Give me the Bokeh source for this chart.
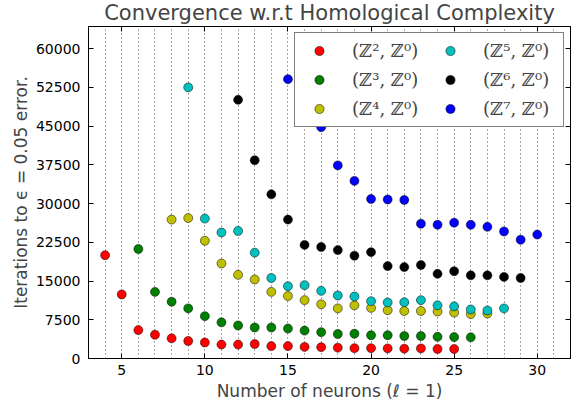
from bokeh.plotting import figure
from bokeh.models import (Range1d, LinearAxis, FixedTicker, SingleIntervalTicker,
                          Legend, LegendItem, ColumnDataSource, CustomLabelingPolicy)
from bokeh.embed import file_html
from bokeh.resources import INLINE

# ---- data ----
x_z2 = list(range(4, 26))
y_z2 = [20000, 12400, 5500, 4600, 3900, 3400, 3100, 2700, 2700, 2800, 2400,
        2400, 2250, 2200, 2100, 2000, 2000, 1950, 1900, 1950, 1850, 1850]
x_z3 = list(range(6, 27))
y_z3 = [21200, 12900, 11000, 9700, 8200, 7000, 6400, 6000, 6000, 5800, 5400,
        5100, 4750, 4800, 4500, 4500, 4350, 4350, 4200, 4150, 4100]
x_z4 = list(range(8, 28))
y_z4 = [26900, 27200, 22800, 18400, 16200, 15300, 12900, 12100, 11300, 10500,
        9700, 10300, 9800, 9350, 9200, 9200, 9100, 8900, 8600, 8700]
x_z5 = list(range(9, 29))
y_z5 = [52500, 27100, 24400, 24700, 20500, 15600, 14000, 14200, 13100, 12200,
        12000, 11100, 10850, 10900, 11300, 10300, 10100, 9500, 9300, 9700]
x_z6 = list(range(12, 30))
y_z6 = [50100, 38400, 31800, 26900, 22000, 21600, 21000, 19900, 20600, 17900,
        17700, 18100, 16400, 16900, 16100, 16100, 15800, 15600]
x_z7 = [15] + list(range(17, 31))
y_z7 = [54100, 44800, 37400, 34400, 30900, 30800, 30700, 26100, 25900, 26300,
        25900, 25500, 24600, 23000, 24000]

labels = ["(ℤ², ℤ⁰)", "(ℤ³, ℤ⁰)", "(ℤ⁴, ℤ⁰)", "(ℤ⁵, ℤ⁰)", "(ℤ⁶, ℤ⁰)", "(ℤ⁷, ℤ⁰)"]
colors = ["#ff0000", "#008000", "#bfbf00", "#00bfbf", "#000000", "#0000ff"]
xs = [x_z2, x_z3, x_z4, x_z5, x_z6, x_z7]
ys = [y_z2, y_z3, y_z4, y_z5, y_z6, y_z7]

x_ticks = [5, 10, 15, 20, 25, 30]
y_ticks = [0, 7500, 15000, 22500, 30000, 37500, 45000, 52500, 60000]

FONT = "DejaVu Sans"

p = figure(width=576, height=403, output_backend="svg", toolbar_location=None,
           x_range=Range1d(3, 32), y_range=Range1d(0, 64300),
           title="Convergence w.r.t Homological Complexity",
           min_border_left=88, min_border_right=0, min_border_top=0,
           min_border_bottom=40)
p.background_fill_color = "white"
p.border_fill_color = "white"
p.outline_line_color = "black"
p.outline_line_width = 1

p.title.text_font = FONT
p.title.text_font_size = "21px"
p.title.text_font_style = "normal"
p.title.align = "center"
p.title.offset = 0
p.title.standoff = -4

for ax in (p.xaxis[0], p.yaxis[0]):
    ax.major_label_text_font = FONT
    ax.major_label_text_font_size = "14px"
    ax.major_label_text_color = "black"
    ax.axis_label_text_font = FONT
    ax.axis_label_text_font_size = "17px"
    ax.axis_label_text_font_style = "normal"
    ax.axis_line_color = "black"
    ax.major_tick_in = 5
    ax.major_tick_out = 0
    ax.minor_tick_in = 0
    ax.minor_tick_out = 0
    ax.major_tick_line_color = "black"

p.xaxis[0].ticker = FixedTicker(ticks=x_ticks)
p.yaxis[0].ticker = FixedTicker(ticks=y_ticks)
p.xaxis[0].axis_label = "Number of neurons (ℓ = 1)"
p.yaxis[0].axis_label = "Iterations to ϵ = 0.05 error."
p.xaxis[0].major_label_standoff = 6
p.yaxis[0].major_label_standoff = 8
p.xaxis[0].axis_label_standoff = 3
p.yaxis[0].axis_label_standoff = 2

# mirrored axes (ticks only, labels filtered out)
no_labels = """
const ks = [];
for (const i of indices) ks.push(i);
if (typeof indices.unset === 'function') { for (const k of ks) indices.unset(k); }
else if (typeof indices.set === 'function') { for (const k of ks) indices.set(k, false); }
return indices;
"""
top = LinearAxis(ticker=FixedTicker(ticks=x_ticks),
                 major_label_policy=CustomLabelingPolicy(code=no_labels),
                 major_label_text_font_size="1px",
                 major_tick_in=5, major_tick_out=0, minor_tick_in=0, minor_tick_out=0,
                 axis_line_color="black", major_label_standoff=0)
right = LinearAxis(ticker=FixedTicker(ticks=y_ticks),
                   major_label_policy=CustomLabelingPolicy(code=no_labels),
                   major_label_text_font_size="1px",
                   major_tick_in=5, major_tick_out=0, minor_tick_in=0, minor_tick_out=0,
                   axis_line_color="black", major_label_standoff=0)
p.add_layout(top, "above")
p.add_layout(right, "right")

p.ygrid.visible = False
p.xgrid.ticker = SingleIntervalTicker(interval=1)
p.xgrid.grid_line_color = "black"
p.xgrid.grid_line_alpha = 0.7
p.xgrid.grid_line_dash = "1 3"
p.xgrid.grid_line_width = 1

items = []
for xv, yv, c, lab in zip(xs, ys, colors, labels):
    src = ColumnDataSource(dict(x=xv, y=yv))
    r = p.scatter("x", "y", source=src, size=9, fill_color=c, line_color="black",
                  line_width=0.5)
    items.append(LegendItem(label=lab, renderers=[r]))

legend = Legend(items=items, location="top_right", ncols=2,
                label_text_font="DejaVu Serif", label_text_font_size="18px",
                glyph_width=36, glyph_height=23, label_standoff=15, label_width=74,
                spacing=6, padding=6, margin=6,
                border_line_color="black", border_line_width=1.5,
                background_fill_color="white", background_fill_alpha=1.0)
p.add_layout(legend, "center")

open("out.html", "w").write(file_html(p, INLINE))
